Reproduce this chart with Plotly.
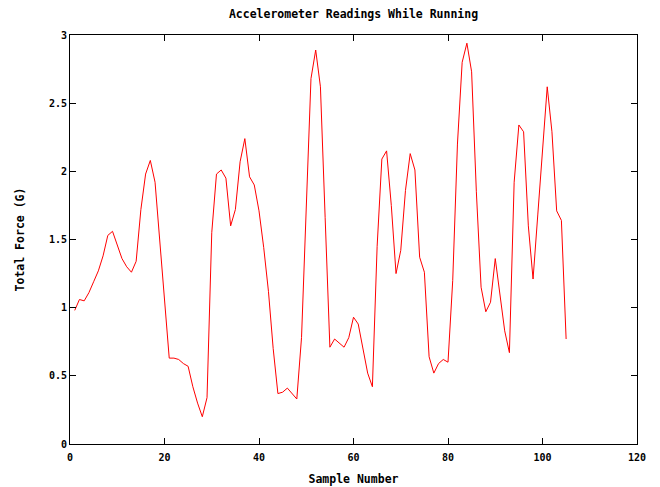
import plotly.graph_objects as go

samples = list(range(1, 106))
force = [
    0.98, 1.06, 1.05, 1.11, 1.19, 1.27, 1.38, 1.53, 1.56, 1.46,
    1.36, 1.30, 1.26, 1.34, 1.72, 1.98, 2.08, 1.92, 1.50, 1.05,
    0.63, 0.63, 0.62, 0.59, 0.57, 0.42, 0.30, 0.20, 0.34, 1.55,
    1.98, 2.01, 1.95, 1.60, 1.72, 2.07, 2.24, 1.96, 1.90, 1.71,
    1.44, 1.12, 0.70, 0.37, 0.38, 0.41, 0.37, 0.33, 0.78, 1.73,
    2.68, 2.89, 2.62, 1.66, 0.71, 0.77, 0.74, 0.71, 0.78, 0.93,
    0.88, 0.69, 0.52, 0.42, 1.45, 2.09, 2.15, 1.75, 1.25, 1.42,
    1.86, 2.13, 2.01, 1.37, 1.26, 0.64, 0.52, 0.59, 0.62, 0.60,
    1.20, 2.20, 2.80, 2.94, 2.73, 1.85, 1.15, 0.97, 1.04, 1.36,
    1.08, 0.83, 0.67, 1.92, 2.34, 2.29, 1.60, 1.21, 1.68, 2.17,
    2.62, 2.29, 1.71, 1.64, 0.77,
]

x_ticks = [0, 20, 40, 60, 80, 100, 120]
y_ticks = [0, 0.5, 1, 1.5, 2, 2.5, 3]
y_tick_labels = ["0", "0.5", "1", "1.5", "2", "2.5", "3"]

font_family = "DejaVu Sans Mono"

fig = go.Figure()
fig.add_trace(go.Scatter(
    x=samples, y=force, mode="lines",
    line=dict(color="#ff0000", width=1),
    showlegend=False, hoverinfo="x+y",
))

axis_common = dict(
    showline=True, linecolor="#000000", linewidth=1, mirror="ticks",
    ticks="inside", ticklen=6, tickcolor="#000000", tickwidth=1,
    showgrid=False, zeroline=False,
    tickfont=dict(family=font_family, size=10, color="#000000", weight="bold"),
)

fig.update_layout(
    width=660, height=487,
    margin=dict(l=59, r=31, t=27, b=48),
    paper_bgcolor="#ffffff", plot_bgcolor="#ffffff",
    title=dict(
        text="Accelerometer Readings While Running",
        x=0.5, xref="paper", xanchor="center", y=1 - 6 / 487, yanchor="middle",
        font=dict(family=font_family, size=11.5, color="#000000", weight="bold"),
    ),
    xaxis=dict(
        range=[0, 120], tickvals=x_ticks, ticklabelstandoff=4,
        title=dict(text="Sample Number", standoff=12,
                   font=dict(family=font_family, size=11.5, color="#000000", weight="bold")),
        **axis_common,
    ),
    yaxis=dict(
        range=[0, 3], tickvals=y_ticks, ticktext=y_tick_labels,
        title=dict(text="Total Force (G)", standoff=21,
                   font=dict(family=font_family, size=11.5, color="#000000", weight="bold")),
        **axis_common,
    ),
)

fig.write_html("out.html")
